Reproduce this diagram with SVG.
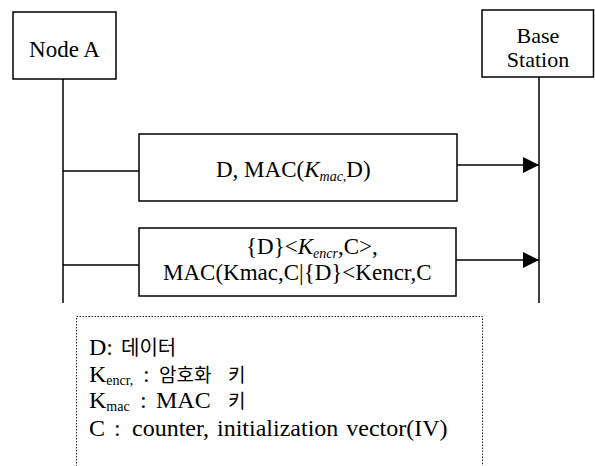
<svg xmlns="http://www.w3.org/2000/svg" width="595" height="466" viewBox="0 0 595 466">
<style>
.box{fill:#fff;stroke:#000;stroke-width:1.5}
.ln{stroke:#000;stroke-width:1.5;fill:none}
.t{font-size:23px;fill:#000}
.c{text-anchor:middle}
.sub{font-size:14px}
.it{font-style:italic}
.ko{font-size:19px}
.leg{fill:none;stroke:#222;stroke-width:1;stroke-dasharray:1.5,1.5}
</style>
<defs>
<marker id="ah" markerUnits="userSpaceOnUse" markerWidth="16" markerHeight="16" refX="16" refY="8" orient="auto">
<path d="M0,0 L16,8 L0,16 Z" fill="#000"/>
</marker>
</defs>
<g font-family="'Liberation Serif', 'Times New Roman', serif">
<g id="nodeA">
<rect class="box" x="13" y="12" width="103" height="67"/>
<text class="t c" x="64.5" y="57" font-size="24">Node A</text>
</g>
<g id="baseStation">
<rect class="box" x="482" y="10" width="111.5" height="67"/>
<text class="t c" x="538" y="43" style="font-size:22px">Base</text>
<text class="t c" x="538" y="67" style="font-size:22px">Station</text>
</g>
<g id="lifelines">
<line class="ln" x1="63" y1="79" x2="63" y2="303"/>
<line class="ln" x1="539" y1="77" x2="539" y2="303"/>
</g>
<g id="msg1">
<rect class="box" x="139" y="134" width="318" height="67"/>
<text class="t" x="216" y="177">D,  MAC(<tspan class="it">K</tspan><tspan class="it sub" dy="4">mac,</tspan><tspan dy="-4">D)</tspan></text>
</g>
<g id="msg2">
<rect class="box" x="139" y="228" width="317" height="68"/>
<text class="t" x="246" y="254">{D}&lt;<tspan class="it">K</tspan><tspan class="it sub" dy="4">encr</tspan><tspan dy="-4">,C&gt;,</tspan></text>
<text class="t" x="163" y="280">MAC(Kmac,C|{D}&lt;Kencr,C</text>
</g>
<g id="connectors">
<line class="ln" x1="63" y1="171" x2="139" y2="171"/>
<line class="ln" x1="457" y1="165" x2="539" y2="165" marker-end="url(#ah)"/>
<line class="ln" x1="63" y1="265" x2="139" y2="265"/>
<line class="ln" x1="456" y1="260" x2="539" y2="260" marker-end="url(#ah)"/>
</g>
<g id="legend">
<rect class="leg" x="76.5" y="316.5" width="406" height="170"/>
<text class="t" x="89" y="355" style="font-size:24px">D:<tspan class="ko" font-family="'Noto Sans CJK KR', sans-serif" x="121" style="font-size:20px">데이터</tspan></text>
<text class="t" x="89" y="382" style="font-size:24px">K<tspan class="sub" dy="3">encr,</tspan><tspan dy="-3" x="143">:</tspan><tspan class="ko" font-family="'Noto Sans CJK KR', sans-serif" x="159">암호화</tspan><tspan class="ko" font-family="'Noto Sans CJK KR', sans-serif" x="228">키</tspan></text>
<text class="t" x="89" y="408" style="font-size:24px">K<tspan class="sub" dy="3">mac</tspan><tspan dy="-3" x="140">:</tspan><tspan x="156">MAC</tspan><tspan class="ko" font-family="'Noto Sans CJK KR', sans-serif" x="228">키</tspan></text>
<text class="t" x="89" y="436" style="font-size:24px">C<tspan x="114">:</tspan><tspan x="132" style="word-spacing:2px">counter, initialization vector(IV)</tspan></text>
</g>
</g>
</svg>
